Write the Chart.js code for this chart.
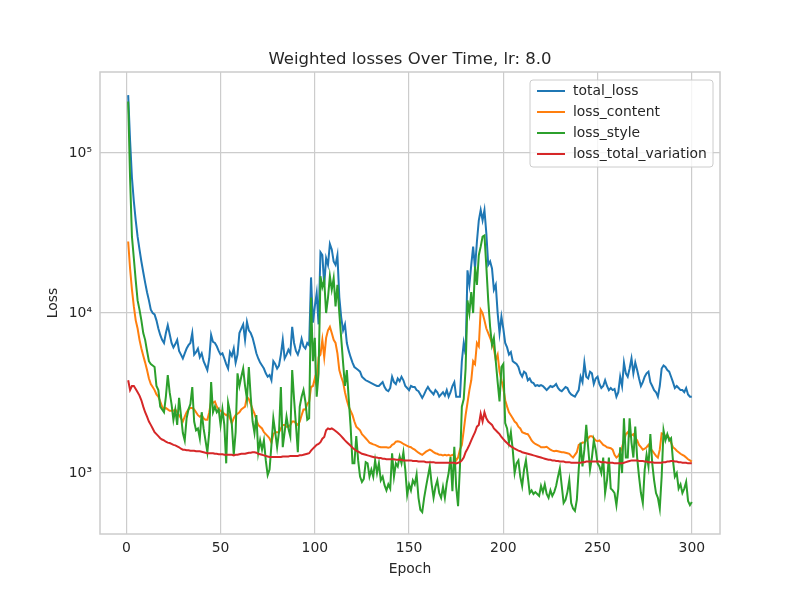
<!DOCTYPE html>
<html>
<head>
<meta charset="utf-8">
<script src="https://cdn.jsdelivr.net/npm/chart.js@4.4.0/dist/chart.umd.min.js"></script>
<style>
  body { margin: 0; background: #fff; }
  canvas { display: block; }
</style>
</head>
<body>
<canvas id="lossChart" width="800" height="600"></canvas>
<script>
// epochs 1..300
const epochs = Array.from({ length: 300 }, (_, i) => i + 1);

const seriesNames = ['total_loss', 'loss_content', 'loss_style', 'loss_total_variation'];
const seriesColors = ['#1f77b4', '#ff7f0e', '#2ca02c', '#d62728'];

const xTicks = [0, 50, 100, 150, 200, 250, 300];
const yTicks = [1000, 10000, 100000];
const yTickLabels = ['10³', '10⁴', '10⁵'];

// values, one per epoch
const totalLoss = [
  230000, 120000, 70000, 50000, 38000, 30000, 25000, 21000, 18000, 15500,
  13500, 12000, 10500, 10000, 9800, 9000, 8000, 7300, 6800, 6500,
  7500, 8400, 7400, 6500, 6100, 6400, 6800, 5800, 5500, 5200,
  5600, 6000, 6300, 6500, 7500, 5500, 5700, 6000, 5300, 5600,
  5000, 4700, 4400, 5200, 7300, 6600, 6500, 6200, 5800, 5500,
  5600, 5200, 4800, 4500, 5700, 5400, 6000, 4900, 5500, 7500,
  8000, 8500, 6800, 8800, 7800, 7500, 7000, 6300, 5600, 5200,
  4900, 4700, 4500, 4200, 4000, 4100, 3800, 5000, 4800, 4500,
  4700, 5500, 6800, 5200, 5500, 5900, 5600, 8200, 6500, 5800,
  5500, 6000, 6900, 6200, 6000, 6500, 6300, 16700, 8700, 11000,
  13300, 8500, 24000, 23000, 15000, 22000, 20000, 27000, 25000, 21000,
  20000, 23000, 12600, 9400, 7800, 8500, 6500, 5800, 5300, 4900,
  4600, 4500, 4400, 4300, 4000, 3900, 3800, 3750, 3700, 3650,
  3600, 3550, 3500, 3500, 3600, 3700, 3450, 3300, 3250, 3400,
  4000, 3700, 3600, 3900, 3750, 4000, 3800, 3500, 3400, 3300,
  3500, 3450, 3450, 3300, 3250, 3100, 2950, 3100, 3300, 3450,
  3300, 3200, 3100, 3300, 3200, 3000, 3100, 3200, 3050, 3300,
  3000, 3200, 3500, 3700, 3000, 3000, 3000, 5000, 6500, 5500,
  18500, 15000, 20000, 26000, 19000, 28000, 38000, 44000, 38000, 44000,
  31500, 20000, 21000, 19000, 14000, 15000, 10000, 7500, 9500, 8000,
  6500, 6100, 5500, 5700, 5000, 4900, 4800, 4600, 4200, 4000,
  4300, 4200, 3800, 3900, 3700, 3650, 3500, 3550, 3500, 3550,
  3500, 3400, 3300, 3400, 3500, 3450, 3500, 3600, 3400, 3300,
  3250, 3350, 3450, 3400, 3200, 3100, 3050, 3000, 3150, 3300,
  4000, 3700, 4900, 4000, 3900, 4300, 4200, 3600, 3900, 4000,
  3600, 3400, 3500, 3800, 3500, 3300, 3400, 3300, 3350, 3000,
  3200, 4000, 3500, 4900, 4200, 4000, 4500, 5200, 4200, 4900,
  4400, 3900, 3500, 3700, 4000, 4200, 4300, 3700, 3500, 3300,
  3200, 3000, 3500, 4500, 4700, 4600, 4400, 4300, 4000, 3700,
  3400, 3500, 3400, 3300, 3300, 3200, 3400, 3100, 3000, 3000
];

const lossContent = [
  28000, 19000, 14000, 11000, 9000, 8000, 6800, 6000, 5400, 4900,
  4400, 3900, 3600, 3450, 3300, 3100, 3000, 2800, 2600, 2500,
  2550, 2500, 2450, 2450, 2450, 2500, 2400, 2300, 2200, 2100,
  2250, 2400, 2500, 2550, 2550, 2500, 2400, 2300, 2250, 2300,
  2200, 2150, 2150, 2400, 2800, 2750, 2800, 2600, 2500, 2450,
  2400, 2350, 2300, 2350, 2200, 2050, 2200, 2300, 2350, 2400,
  2500, 2550, 2600, 3000, 2900, 2700, 2500, 2350, 2150, 2000,
  1950, 1900, 1800, 1750, 1700, 1650, 1550, 1750, 1800, 1800,
  1800, 1900, 2000, 2000, 1950, 1950, 2000, 2100, 2100, 2050,
  2000, 2100, 2300, 2500, 2500, 2700, 2800, 3450, 3500, 3900,
  3500, 5300, 5500, 6800, 5300, 7000, 7800, 8200, 7500, 6800,
  6500, 5600, 4400, 4000, 3700, 3200, 2850, 2600, 2450, 2300,
  2100, 1950, 1900, 1850, 1750, 1700, 1650, 1600, 1550, 1530,
  1510, 1500, 1480, 1460, 1450, 1450, 1450, 1450, 1440, 1450,
  1500, 1520, 1570, 1580, 1570, 1550, 1520, 1500, 1480, 1460,
  1450, 1420, 1400, 1370, 1340, 1320, 1300, 1330, 1360, 1380,
  1400, 1380, 1350, 1330, 1320, 1300, 1300, 1290, 1300, 1290,
  1300, 1280, 1300, 1290, 1200, 1250, 1400, 1500, 1850, 2300,
  2750, 3300, 3800, 5000, 4800, 6500, 6200, 10500, 10000, 9000,
  8000, 7500, 7000, 6500, 6000, 5100, 5500, 4300, 3800, 3400,
  2850, 2600, 2400, 2300, 2200, 2100, 2050, 1950, 1900, 1800,
  1780, 1760, 1750, 1680, 1600, 1550, 1520, 1500, 1480, 1450,
  1450, 1450, 1460, 1430, 1400, 1380, 1370, 1380, 1370, 1360,
  1350, 1350, 1340, 1330, 1320, 1280, 1250, 1300, 1350, 1500,
  1520, 1550, 1550, 1600, 1650, 1700, 1700, 1650, 1600, 1580,
  1600, 1550, 1500, 1480, 1450, 1440, 1430, 1400, 1300, 1250,
  1280, 1350, 1450, 1600, 1750, 1800, 1700, 1720, 1750, 1650,
  1600, 1500, 1450, 1400, 1420, 1450, 1500, 1420, 1380, 1330,
  1280, 1250, 1400, 1770, 1750, 1700, 1720, 1650, 1550, 1450,
  1420, 1380, 1350, 1320, 1300, 1280, 1250, 1220, 1200, 1180
];

const lossStyle = [
  210000, 70000, 30000, 22000, 16000, 12000, 10500, 9000, 7500, 6800,
  5800, 5000, 4800, 4700, 4600, 3500, 3300, 2600, 2500, 2400,
  3000, 4100, 3200, 2700, 2150, 2500, 2000, 2950, 2300, 1780,
  1600, 2200, 2500, 2700, 3450, 2100, 1850, 1900, 1650, 2400,
  1900, 1600, 1350, 1800, 3700, 2400, 2600, 2400, 2500, 2000,
  2500, 2000, 1150, 2750, 2400, 2000, 1300, 1800, 4200, 3500,
  4000, 4500, 3500, 2900, 4600, 3000, 2100, 1780, 2300, 1350,
  1600, 1400, 1600, 1200, 970, 1050, 1500, 2200, 1800, 1450,
  1800, 3450, 1450, 1800, 2250, 1900, 1700, 4400, 2900, 2000,
  1350, 2600, 3000, 3300, 2800, 2150, 2200, 12500, 5000, 7000,
  3000, 4200, 17000, 14500, 16000, 10000, 12500, 17000, 14000, 16500,
  11000, 15000, 10000, 7000, 4900, 3500, 4400, 2900, 1950, 1150,
  1150, 1700, 1200, 950, 880, 920, 1170, 1150, 950, 1050,
  950, 1200, 1000, 1150, 900, 950, 840, 780, 850, 800,
  1330, 950, 1150, 1100, 1270, 1150, 1350, 1050, 730, 850,
  780, 900, 850, 980, 700, 590, 570, 700, 820, 950,
  1100, 850, 700, 820, 900, 750, 700, 820, 700, 870,
  1000, 1260, 770, 1460, 820, 620, 1100, 2600, 2900, 4500,
  12000, 10000, 13500, 10000, 19500, 15000, 23000, 26000, 30000, 30500,
  19500, 12000, 8200, 6300, 7000, 5000, 3700, 2800, 4600, 4800,
  2050, 1900, 1550, 1800, 1400, 1000, 1150, 1200, 950, 830,
  1050, 1200, 950, 750, 780, 740, 760, 740, 720, 830,
  760, 850, 740, 700, 780, 720, 760, 830, 950, 1070,
  830, 650, 680, 760, 900, 650, 600, 580, 680, 1050,
  1550, 1100, 1400, 2000, 1450, 1050, 1250, 1600, 1400, 1150,
  1100, 1000, 1250, 750, 900, 1250, 800, 780, 750, 630,
  800, 1450, 1000, 2200, 1250, 1250, 2200, 1550, 1250, 1950,
  1250, 950, 750, 650, 1050, 1300, 1100, 1750, 1150, 900,
  750, 700, 600, 950, 1850, 1600, 1750, 1600, 1650, 1200,
  950, 1000, 800, 850, 750, 800, 880, 670, 630, 660
];

const lossTV = [
  3800, 3300, 3500, 3500, 3350, 3200, 3050, 2850, 2600, 2400,
  2250, 2100, 2000, 1900, 1800, 1750, 1700, 1650, 1620, 1600,
  1570, 1550, 1540, 1520, 1500, 1490, 1470, 1450, 1420, 1400,
  1400, 1390, 1390, 1380, 1380, 1380, 1370, 1370, 1370, 1360,
  1350, 1340, 1330, 1330, 1330, 1330, 1320, 1320, 1310, 1310,
  1310, 1300, 1300, 1300, 1300, 1300, 1290, 1300, 1300, 1310,
  1320, 1320, 1320, 1330, 1340, 1340, 1350, 1350, 1340, 1320,
  1310, 1300, 1290, 1280, 1270, 1260, 1260, 1260, 1260, 1260,
  1260, 1260, 1270, 1270, 1270, 1270, 1280, 1280, 1280, 1280,
  1280, 1290, 1290, 1300, 1310, 1320, 1330, 1380, 1420, 1460,
  1500, 1520, 1560, 1640, 1680, 1850, 1900, 1880, 1900, 1870,
  1830, 1790, 1750, 1700, 1650, 1600, 1560, 1520, 1480, 1440,
  1410, 1380, 1360, 1340, 1320, 1310, 1300, 1290, 1280, 1270,
  1260, 1250, 1250, 1240, 1240, 1230, 1230, 1220, 1220, 1220,
  1220, 1220, 1210, 1210, 1210, 1210, 1200, 1200, 1200, 1200,
  1200, 1190, 1190, 1190, 1180, 1180, 1180, 1180, 1170, 1170,
  1170, 1170, 1170, 1160, 1160, 1160, 1160, 1160, 1160, 1160,
  1160, 1160, 1160, 1160, 1150, 1160, 1170, 1200, 1250, 1350,
  1420, 1500, 1600, 1700, 1800, 1950, 2000, 2350, 2100, 2400,
  2200, 2100, 2050, 2000, 1900, 1850, 1800, 1750, 1680, 1630,
  1580, 1540, 1500, 1470, 1450, 1420, 1400, 1380, 1370, 1350,
  1340, 1330, 1320, 1310, 1300, 1290, 1280, 1270, 1260, 1250,
  1240, 1230, 1220, 1210, 1210, 1200, 1200, 1190, 1190, 1180,
  1180, 1180, 1170, 1170, 1170, 1160, 1160, 1160, 1160, 1160,
  1160, 1170, 1170, 1180, 1180, 1180, 1180, 1180, 1180, 1180,
  1180, 1170, 1170, 1170, 1160, 1160, 1160, 1160, 1150, 1150,
  1150, 1150, 1150, 1160, 1170, 1180, 1190, 1200, 1200, 1200,
  1200, 1190, 1190, 1190, 1180, 1180, 1170, 1170, 1170, 1160,
  1160, 1160, 1160, 1160, 1170, 1170, 1180, 1180, 1190, 1190,
  1180, 1180, 1170, 1170, 1160, 1160, 1160, 1150, 1150, 1150
];

const seriesValues = [totalLoss, lossContent, lossStyle, lossTV];

Chart.defaults.font.family = "'DejaVu Sans', sans-serif";
Chart.defaults.color = '#262626';

// title, axis labels, frame and legend drawn in matplotlib style
const decorPlugin = {
  id: 'decor',
  afterDraw(chart) {
    const ctx = chart.ctx;
    const a = chart.chartArea;
    ctx.save();

    // frame
    ctx.strokeStyle = '#cccccc';
    ctx.lineWidth = 1.5;
    ctx.strokeRect(a.left, a.top, a.right - a.left, a.bottom - a.top);

    // title
    const cx = (a.left + a.right) / 2;
    ctx.fillStyle = '#262626';
    ctx.textAlign = 'center';
    ctx.textBaseline = 'alphabetic';
    ctx.font = "16.5px 'DejaVu Sans'";
    ctx.fillText('Weighted losses Over Time, lr: 8.0', cx, a.top - 8);

    // axis labels
    ctx.font = "13.9px 'DejaVu Sans'";
    ctx.textBaseline = 'middle';
    ctx.fillText('Epoch', cx, 569);
    ctx.translate(53, (a.top + a.bottom) / 2);
    ctx.rotate(-Math.PI / 2);
    ctx.fillText('Loss', 0, 0);
    ctx.setTransform(1, 0, 0, 1, 0, 0);

    // legend box, upper right
    const bx = 530, by = 80, bw = 183, bh = 87, r = 3;
    ctx.beginPath();
    ctx.moveTo(bx + r, by);
    ctx.arcTo(bx + bw, by, bx + bw, by + bh, r);
    ctx.arcTo(bx + bw, by + bh, bx, by + bh, r);
    ctx.arcTo(bx, by + bh, bx, by, r);
    ctx.arcTo(bx, by, bx + bw, by, r);
    ctx.closePath();
    ctx.fillStyle = 'rgba(255,255,255,0.8)';
    ctx.fill();
    ctx.strokeStyle = '#cccccc';
    ctx.lineWidth = 1;
    ctx.stroke();

    ctx.textAlign = 'left';
    ctx.font = "13.9px 'DejaVu Sans'";
    seriesNames.forEach((name, i) => {
      const y = 91 + i * 21;
      ctx.strokeStyle = seriesColors[i];
      ctx.lineWidth = 2;
      ctx.beginPath();
      ctx.moveTo(537, y);
      ctx.lineTo(565, y);
      ctx.stroke();
      ctx.fillStyle = '#262626';
      ctx.fillText(name, 573, y);
    });

    ctx.restore();
  }
};

new Chart(document.getElementById('lossChart'), {
  type: 'line',
  data: {
    datasets: seriesNames.map((name, i) => ({
      label: name,
      data: epochs.map((e, j) => ({ x: e, y: seriesValues[i][j] })),
      borderColor: seriesColors[i],
      backgroundColor: seriesColors[i],
      borderWidth: 2,
      pointRadius: 0,
      tension: 0,
      fill: false,
      order: 4 - i
    }))
  },
  options: {
    responsive: false,
    animation: false,
    devicePixelRatio: 1,
    layout: { padding: { top: 72, right: 80, left: 0, bottom: 0 } },
    plugins: {
      legend: { display: false },
      title: { display: false },
      tooltip: { enabled: false }
    },
    scales: {
      x: {
        type: 'linear',
        min: -13.95,
        max: 314.95,
        afterBuildTicks: s => { s.ticks = xTicks.map(v => ({ value: v })); },
        afterFit: s => { s.height = 66; },
        ticks: {
          autoSkip: false,
          maxRotation: 0,
          padding: 6,
          font: { size: 13.9 },
          color: '#262626',
          callback: v => String(v)
        },
        grid: { color: '#cccccc', lineWidth: 1.2, drawTicks: false },
        border: { display: false }
      },
      y: {
        type: 'logarithmic',
        min: 416,
        max: 321000,
        afterBuildTicks: s => { s.ticks = yTicks.map(v => ({ value: v })); },
        afterFit: s => { s.width = 100; },
        ticks: {
          autoSkip: false,
          padding: 8,
          font: { size: 13.9 },
          color: '#262626',
          callback: v => yTickLabels[yTicks.indexOf(v)]
        },
        grid: { color: '#cccccc', lineWidth: 1.2, drawTicks: false },
        border: { display: false }
      }
    }
  },
  plugins: [decorPlugin]
});
</script>
</body>
</html>
